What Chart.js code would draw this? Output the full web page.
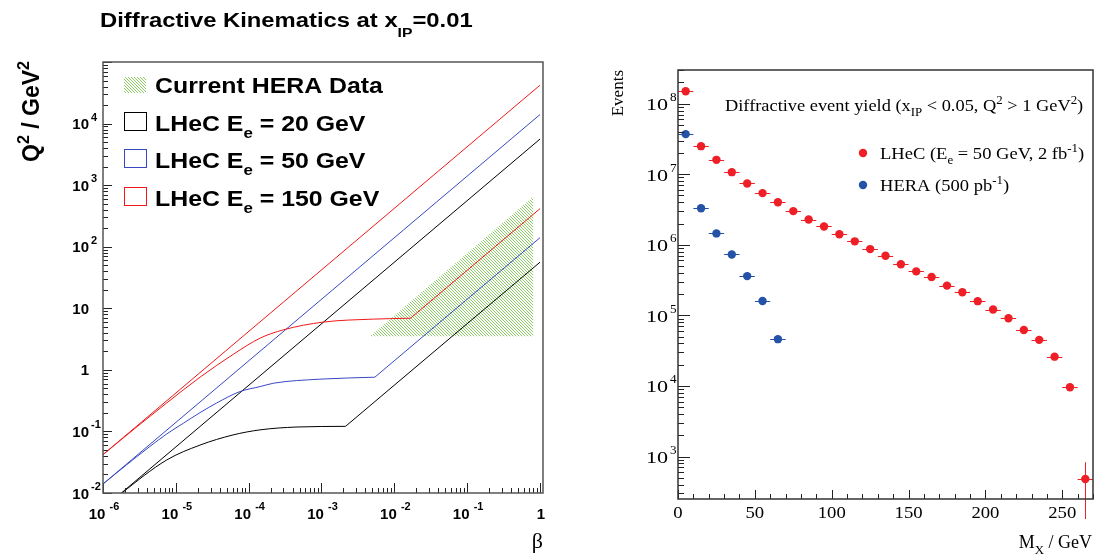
<!DOCTYPE html>
<html>
<head>
<meta charset="utf-8">
<script src="https://cdn.jsdelivr.net/npm/chart.js@4.4.1/dist/chart.umd.min.js"></script>
<style>
html, body { margin: 0; padding: 0; background: #fff; }
#wrap { position: relative; width: 1099px; height: 559px; overflow: hidden; }
canvas { position: absolute; top: 0; }
#left { left: 0; }
#right { left: 560px; }
</style>
</head>
<body>
<div id="wrap">
  <canvas id="left" width="560" height="559"></canvas>
  <canvas id="right" width="539" height="559"></canvas>
</div>
<script>
// ---- left panel: kinematic limits at x_IP = 0.01 ----
const betaUpper = [1e-6, 1];
const q2Upper20 = [0.0056, 5600];
const q2Upper50 = [0.014, 14000];
const q2Upper150 = [0.042, 42000];

const betaLow20 = [1e-6, 1.8e-6, 7.5e-6, 2.15e-5, 6.1e-5, 1.43e-4, 4.6e-4, 2.14e-3];
const q2Low20 = [0.0055, 0.0099, 0.0344, 0.060, 0.0877, 0.106, 0.118, 0.121];
const betaRise20 = [2.14e-3, 1];
const q2Rise20 = [0.121, 56];

const betaLow50 = [1e-6, 2.6e-6, 4.4e-6, 7.5e-6, 1.27e-5, 2.15e-5, 3.6e-5, 7.6e-5, 1.44e-4, 2.2e-4, 9.5e-4, 5.4e-3];
const q2Low50 = [0.014, 0.035, 0.057, 0.091, 0.136, 0.202, 0.288, 0.444, 0.535, 0.607, 0.706, 0.76];
const betaRise50 = [5.4e-3, 1];
const q2Rise50 = [0.76, 140];

const betaLow150 = [1e-6, 3e-6, 7.5e-6, 2.15e-5, 6.2e-5, 1.44e-4, 3e-4, 1.06e-3, 5.2e-3, 0.0167];
const q2Low150 = [0.042, 0.122, 0.29, 0.76, 1.8, 3.28, 4.47, 5.97, 6.67, 6.9];
const betaRise150 = [0.0167, 1];
const q2Rise150 = [6.9, 415];

const betaHera = [4.66e-3, 0.807, 0.807];
const q2Hera = [3.5, 650, 3.5];

const leftXTicks = [1e-6, 1e-5, 1e-4, 1e-3, 1e-2, 1e-1, 1];
const leftXLabels = [['10', '-6'], ['10', '-5'], ['10', '-4'], ['10', '-3'], ['10', '-2'], ['10', '-1'], ['1', '']];
const leftYTicks = [1e-2, 1e-1, 1, 10, 1e2, 1e3, 1e4];
const leftYLabels = [['10', '-2'], ['10', '-1'], ['1', ''], ['10', ''], ['10', '2'], ['10', '3'], ['10', '4']];

// ---- right panel: diffractive event yield vs M_X ----
const mxBins = [5, 15, 25, 35, 45, 55, 65, 75, 85, 95, 105, 115, 125, 135, 145, 155, 165, 175, 185, 195, 205, 215, 225, 235, 245, 255, 265];
const lhecEvents = [1.5e8, 2.5e7, 1.6e7, 1.07e7, 7.4e6, 5.4e6, 4.0e6, 3.0e6, 2.28e6, 1.82e6, 1.41e6, 1.12e6, 8.7e5, 7.0e5, 5.3e5, 4.2e5, 3.5e5, 2.64e5, 2.13e5, 1.59e5, 1.21e5, 9.1e4, 6.2e4, 4.5e4, 2.6e4, 9.6e3, 480];
const lhecErrors = [0, 0, 0, 0, 0, 0, 0, 0, 0, 0, 0, 0, 0, 0, 0, 0, 0, 0, 0, 0, 0, 0, 0, 0, 0, 0, 350];
const heraBins = [5, 15, 25, 35, 45, 55, 65];
const heraEvents = [3.7e7, 3.3e6, 1.45e6, 7.3e5, 3.6e5, 1.6e5, 4.6e4];
const heraErrors = [0, 0, 0, 0, 0, 0, 0];
const binHalfWidth = 5;

const rightXTicks = [0, 50, 100, 150, 200, 250];
const rightXLabels = ['0', '50', '100', '150', '200', '250'];
const rightYTicks = [1e3, 1e4, 1e5, 1e6, 1e7, 1e8];
const rightYLabels = [['10', '3'], ['10', '4'], ['10', '5'], ['10', '6'], ['10', '7'], ['10', '8']];

const RED = '#f01818', BLUE = '#3848c0', BLACK = '#000';
const PT_RED = '#ee1f26', PT_BLUE = '#2452a6';
const SANS = 'Liberation Sans', SERIF = 'Liberation Serif';

function toXY(xs, ys) {
    return xs.map((x, i) => ({ x: x, y: ys[i] }));
}

// text with sub/superscripts: parts = [[text, 0 | 1 (sup) | -1 (sub)], ...]
function richText(ctx, x, y, parts, o) {
    const size = o.size, small = size * (o.small || 0.7), sx = o.sx || 1;
    const font = s => `${o.weight || 'normal'} ${s}px "${o.family}"`;
    let w = 0;
    const widths = parts.map(p => {
        ctx.font = font(p[1] ? small : size);
        const m = ctx.measureText(p[0]).width * sx;
        w += m;
        return m;
    });
    let cx = o.align === 'right' ? x - w : o.align === 'center' ? x - w / 2 : x;
    ctx.textAlign = 'left';
    ctx.textBaseline = 'alphabetic';
    parts.forEach((p, i) => {
        ctx.font = font(p[1] ? small : size);
        const dy = p[1] === 1 ? -size * (o.rise || 0.42) : p[1] === -1 ? size * (o.drop || 0.3) : 0;
        ctx.save();
        ctx.translate(cx, y + dy);
        ctx.scale(sx, 1);
        ctx.fillText(p[0], 0, 0);
        ctx.restore();
        cx += widths[i];
    });
    return w;
}

function logTicks(min, max) {
    const out = [];
    for (let k = Math.floor(Math.log10(min)); k <= Math.ceil(Math.log10(max)); k++) {
        for (let m = 1; m <= 9; m++) {
            const v = m * Math.pow(10, k);
            if (v >= min * 0.999 && v <= max * 1.001) out.push({ v: v, major: m === 1 });
        }
    }
    return out;
}

// ---------------- left chart ----------------
const leftCanvas = document.getElementById('left');
const lctx = leftCanvas.getContext('2d');

const tile = document.createElement('canvas');
tile.width = tile.height = 3;
const tg = tile.getContext('2d');
tg.strokeStyle = 'rgb(140,204,100)';
tg.lineWidth = 1;
tg.beginPath();
tg.moveTo(-1, -1); tg.lineTo(4, 4);
tg.moveTo(-1, 2); tg.lineTo(1, 4);
tg.moveTo(2, -1); tg.lineTo(4, 1);
tg.stroke();
const hatch = lctx.createPattern(tile, 'repeat');

function lineSet(xs, ys, color, curved) {
    return {
        data: toXY(xs, ys),
        showLine: true,
        borderColor: color,
        borderWidth: 1,
        pointRadius: 0,
        fill: false,
        cubicInterpolationMode: curved ? 'monotone' : 'default'
    };
}

const leftDecor = {
    id: 'leftDecor',
    afterDraw(chart) {
        const { ctx, chartArea: a, scales: { x, y } } = chart;
        ctx.save();
        ctx.strokeStyle = '#222';
        ctx.lineWidth = 1;
        ctx.beginPath();
        logTicks(0.01, 1e5).forEach(t => {
            const py = Math.round(y.getPixelForValue(t.v)) + 0.5;
            ctx.moveTo(a.left, py);
            ctx.lineTo(a.left + (t.major ? 9 : 5), py);
        });
        logTicks(1e-6, 1.1).forEach(t => {
            const px = Math.round(x.getPixelForValue(t.v)) + 0.5;
            ctx.moveTo(px, a.bottom);
            ctx.lineTo(px, a.bottom - (t.major ? 10 : 5));
        });
        ctx.stroke();
        ctx.strokeStyle = '#555';
        ctx.lineWidth = 1.5;
        ctx.strokeRect(a.left, a.top, a.right - a.left, a.bottom - a.top);

        ctx.fillStyle = '#000';
        // y tick labels
        leftYTicks.forEach((v, i) => {
            const py = y.getPixelForValue(v);
            const [base, exp] = leftYLabels[i];
            ctx.font = `bold 15px "${SANS}"`;
            ctx.textAlign = 'right';
            ctx.fillText(base, a.left - 14, py + 5.5);
            if (exp) {
                ctx.font = `bold 11px "${SANS}"`;
                ctx.textAlign = 'left';
                ctx.fillText(exp, a.left - 12, py - 3);
            }
        });
        // x tick labels
        leftXTicks.forEach((v, i) => {
            const px = x.getPixelForValue(v);
            const [base, exp] = leftXLabels[i];
            richText(ctx, px + 1, 519, exp ? [[base, 0], [' ', 0], [exp, 1]] : [[base, 0]],
                { size: 15, family: SANS, weight: 'bold', rise: 0.6, small: 0.73, align: 'center' });
        });

        // title
        richText(ctx, 100, 27, [['Diffractive Kinematics at x', 0], ['IP', -1], ['=0.01', 0]],
            { size: 20, family: SANS, weight: 'bold', drop: 0.48, small: 0.66, sx: 1.19 });

        // y title
        ctx.save();
        ctx.translate(39, 162);
        ctx.rotate(-Math.PI / 2);
        richText(ctx, 0, 0, [['Q', 0], ['2', 1], [' / GeV', 0], ['2', 1]],
            { size: 23, family: SANS, weight: 'bold', rise: 0.42 });
        ctx.restore();

        // x title
        ctx.font = `22px "${SERIF}"`;
        ctx.textAlign = 'right';
        ctx.fillText('\u03b2', a.right, 548);

        // legend
        ctx.fillStyle = hatch;
        ctx.fillRect(124, 77, 22, 16);
        ctx.fillStyle = '#000';
        richText(ctx, 155, 93, [['Current HERA Data', 0]], { size: 22, family: SANS, weight: 'bold', sx: 1.13 });
        const rows = [[BLACK, '20', 131], [BLUE, '50', 168], [RED, '150', 206]];
        rows.forEach(r => {
            ctx.strokeStyle = r[0];
            ctx.lineWidth = 1;
            ctx.strokeRect(124.5, r[2] - 18.5, 22, 18);
            ctx.fillStyle = '#000';
            richText(ctx, 155, r[2], [['LHeC E', 0], ['e', -1], [' = ' + r[1] + ' GeV', 0]],
                { size: 22, family: SANS, weight: 'bold', drop: 0.32, small: 0.68, sx: 1.13 });
        });
        ctx.restore();
    }
};

new Chart(leftCanvas, {
    type: 'scatter',
    data: {
        datasets: [
            lineSet(betaUpper, q2Upper150, RED, false),
            lineSet(betaLow150, q2Low150, RED, true),
            lineSet(betaRise150, q2Rise150, RED, false),
            lineSet(betaUpper, q2Upper50, BLUE, false),
            lineSet(betaLow50, q2Low50, BLUE, true),
            lineSet(betaRise50, q2Rise50, BLUE, false),
            lineSet(betaUpper, q2Upper20, BLACK, false),
            lineSet(betaLow20, q2Low20, BLACK, true),
            lineSet(betaRise20, q2Rise20, BLACK, false),
            {
                data: toXY(betaHera, q2Hera),
                showLine: true,
                borderWidth: 0,
                borderColor: 'rgba(0,0,0,0)',
                backgroundColor: hatch,
                pointRadius: 0,
                fill: 'shape'
            }
        ]
    },
    options: {
        responsive: false,
        animation: false,
        devicePixelRatio: 1,
        layout: { padding: { left: 103, top: 62, right: 17, bottom: 66 } },
        scales: {
            x: { type: 'logarithmic', min: 1e-6, max: 1.1, display: false },
            y: { type: 'logarithmic', min: 0.01, max: 1e5, display: false }
        },
        plugins: { legend: { display: false }, tooltip: { enabled: false } }
    },
    plugins: [leftDecor]
});

// ---------------- right chart ----------------
const errorBars = {
    id: 'errorBars',
    beforeDatasetsDraw(chart) {
        const { ctx, scales: { x, y } } = chart;
        ctx.save();
        ctx.lineWidth = 1;
        chart.data.datasets.forEach(ds => {
            ctx.strokeStyle = ds.backgroundColor;
            ctx.beginPath();
            ds.data.forEach((p, i) => {
                const py = Math.round(y.getPixelForValue(p.y)) + 0.5;
                ctx.moveTo(x.getPixelForValue(p.x - binHalfWidth), py);
                ctx.lineTo(x.getPixelForValue(p.x + binHalfWidth), py);
                const e = ds.errors[i];
                if (e > 0) {
                    const px = Math.round(x.getPixelForValue(p.x)) + 0.5;
                    ctx.moveTo(px, y.getPixelForValue(p.y + e));
                    ctx.lineTo(px, y.getPixelForValue(Math.max(p.y - e, 1)));
                }
            });
            ctx.stroke();
        });
        ctx.restore();
    }
};

const rightDecor = {
    id: 'rightDecor',
    afterDraw(chart) {
        const { ctx, chartArea: a, scales: { x, y } } = chart;
        ctx.save();
        ctx.strokeStyle = '#222';
        ctx.lineWidth = 1;
        ctx.beginPath();
        logTicks(250, 3e8).forEach(t => {
            const py = Math.round(y.getPixelForValue(t.v)) + 0.5;
            ctx.moveTo(a.left, py);
            ctx.lineTo(a.left + (t.major ? 12 : 6), py);
        });
        for (let v = 0; v <= 270; v += 10) {
            const px = Math.round(x.getPixelForValue(v)) + 0.5;
            ctx.moveTo(px, a.bottom);
            ctx.lineTo(px, a.bottom - (v % 50 === 0 ? 9 : 5));
        }
        ctx.stroke();
        ctx.strokeStyle = '#333';
        ctx.lineWidth = 1.5;
        ctx.strokeRect(a.left, a.top, a.right - a.left, a.bottom - a.top);

        ctx.fillStyle = '#000';
        rightYTicks.forEach((v, i) => {
            const py = y.getPixelForValue(v);
            richText(ctx, a.left - 10, py + 6.5, [[rightYLabels[i][0], 0]],
                { size: 17, family: SERIF, align: 'right', sx: 1.3 });
            richText(ctx, a.left - 8, py - 2.5, [[rightYLabels[i][1], 0]],
                { size: 12, family: SERIF, sx: 1.1 });
        });
        rightXTicks.forEach((v, i) => {
            richText(ctx, x.getPixelForValue(v), 518, [[rightXLabels[i], 0]],
                { size: 17, family: SERIF, align: 'center', sx: 1.1 });
        });

        // axis titles
        ctx.save();
        ctx.translate(63, a.top);
        ctx.rotate(-Math.PI / 2);
        ctx.font = `17px "${SERIF}"`;
        ctx.textAlign = 'right';
        ctx.fillText('Events', 0, 0);
        ctx.restore();
        richText(ctx, a.right - 1, 548, [['M', 0], ['X', -1], [' / GeV', 0]],
            { size: 18, family: SERIF, drop: 0.35, small: 0.72, align: 'right' });

        // header and legend
        richText(ctx, 165, 111, [['Diffractive event yield (x', 0], ['IP', -1], [' < 0.05, Q', 0], ['2', 1],
            [' > 1 GeV', 0], ['2', 1], [')', 0]], { size: 17, family: SERIF, drop: 0.3, small: 0.7, sx: 1.08 });
        const leg = [
            [PT_RED, 153, [['LHeC (E', 0], ['e', -1], [' = 50 GeV, 2 fb', 0], ['-1', 1], [')', 0]]],
            [PT_BLUE, 185, [['HERA (500 pb', 0], ['-1', 1], [')', 0]]]
        ];
        leg.forEach(l => {
            ctx.fillStyle = l[0];
            ctx.beginPath();
            ctx.arc(303, l[1], 4.2, 0, Math.PI * 2);
            ctx.fill();
            ctx.fillStyle = '#000';
            richText(ctx, 320, l[1] + 6, l[2], { size: 17, family: SERIF, drop: 0.3, small: 0.7, rise: 0.42, sx: 1.09 });
        });
        ctx.restore();
    }
};

new Chart(document.getElementById('right'), {
    type: 'scatter',
    data: {
        datasets: [
            {
                data: toXY(mxBins, lhecEvents),
                errors: lhecErrors,
                backgroundColor: PT_RED,
                borderWidth: 0,
                pointRadius: 4.2
            },
            {
                data: toXY(heraBins, heraEvents),
                errors: heraErrors,
                backgroundColor: PT_BLUE,
                borderWidth: 0,
                pointRadius: 4.2
            }
        ]
    },
    options: {
        responsive: false,
        animation: false,
        devicePixelRatio: 1,
        layout: { padding: { left: 118, top: 70, right: 6, bottom: 60 } },
        scales: {
            x: { type: 'linear', min: 0, max: 270, display: false },
            y: { type: 'logarithmic', min: 250, max: 3e8, display: false }
        },
        plugins: { legend: { display: false }, tooltip: { enabled: false } }
    },
    plugins: [errorBars, rightDecor]
});
</script>
</body>
</html>
